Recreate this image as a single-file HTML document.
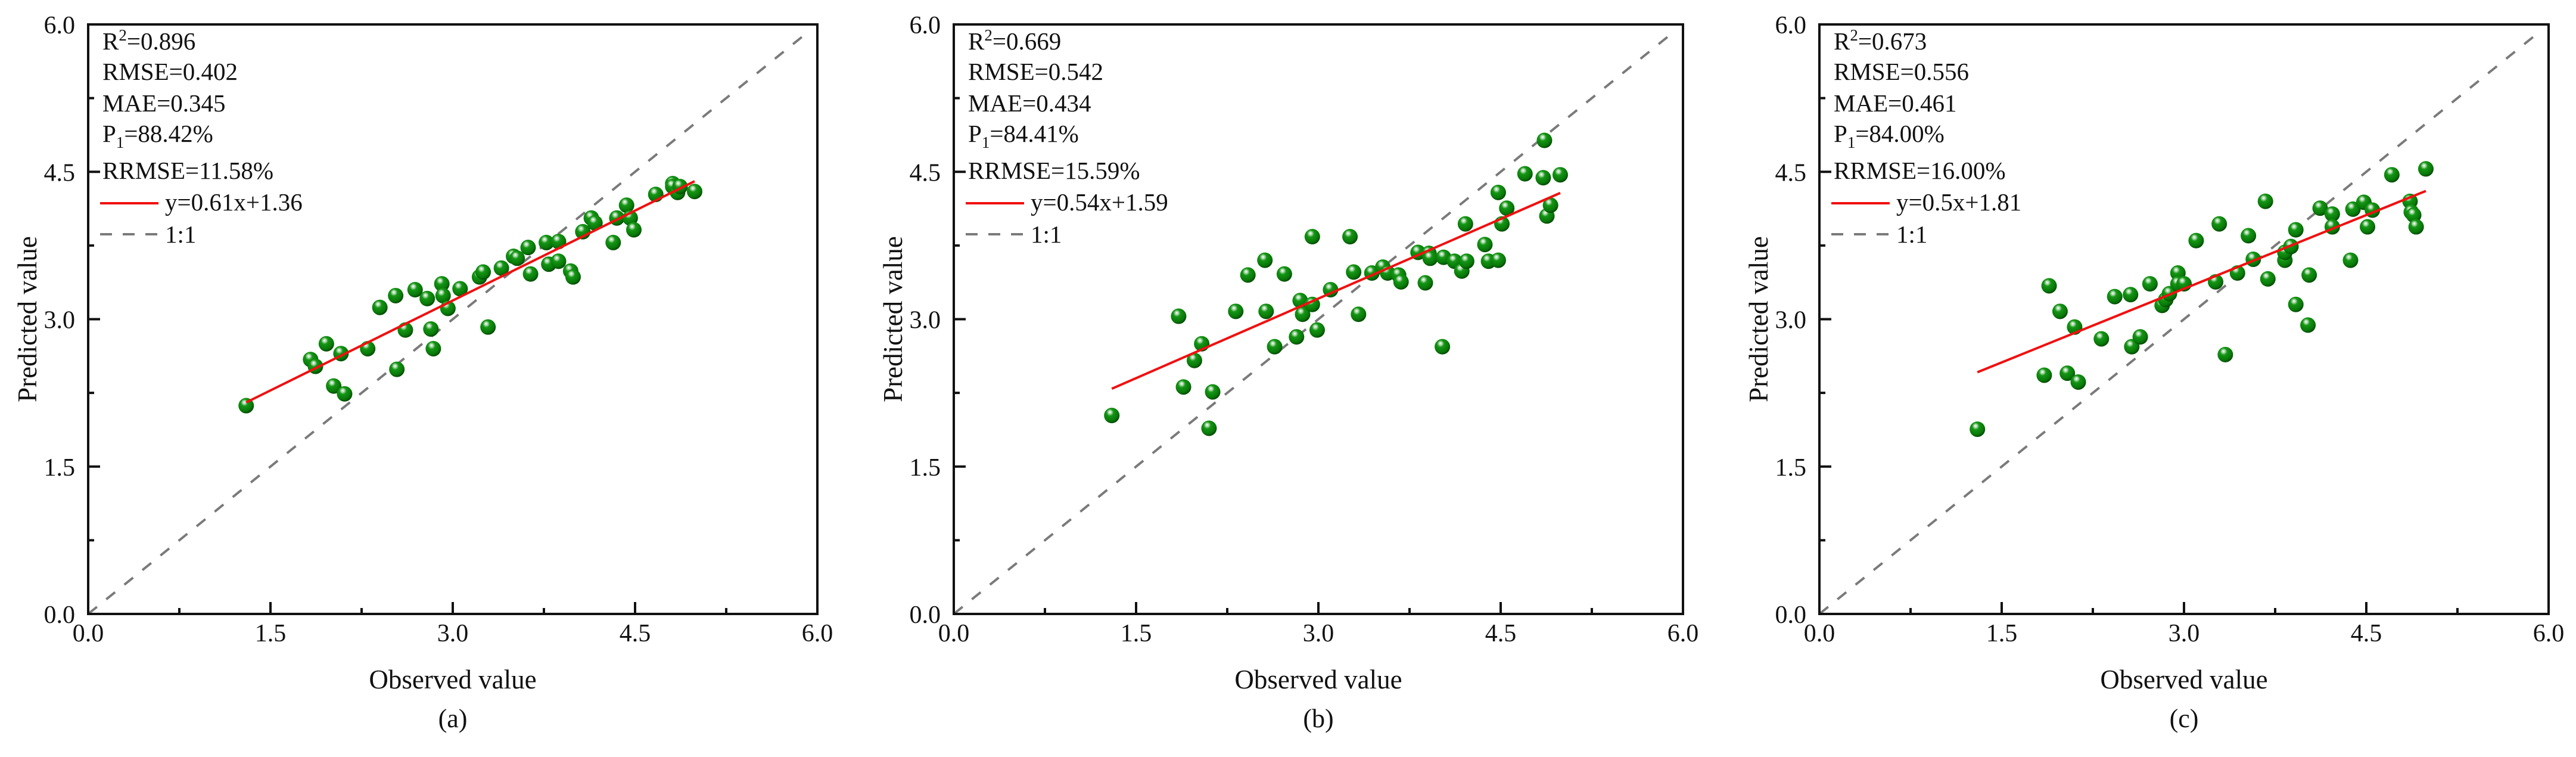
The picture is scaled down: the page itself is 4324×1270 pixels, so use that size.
<!DOCTYPE html>
<html><head><meta charset="utf-8">
<style>
html,body{margin:0;padding:0;background:#fff;}
svg{display:block;font-family:"Liberation Serif","Times New Roman",serif;}
</style></head>
<body>
<svg id="chart" width="4324" height="1270" viewBox="0 0 4324 1270" xmlns="http://www.w3.org/2000/svg">
<defs>
<radialGradient id="ball" cx="0.4" cy="0.35" r="0.65" fx="0.38" fy="0.28">
<stop offset="0" stop-color="#ffffff"/>
<stop offset="0.18" stop-color="#9fd39f"/>
<stop offset="0.35" stop-color="#159615"/>
<stop offset="0.8" stop-color="#087708"/>
<stop offset="1" stop-color="#034a03"/>
</radialGradient>
</defs>
</svg>
<script>
// ---- data ----
const panelLabels = ["(a)", "(b)", "(c)"];
const tickValues = [0, 1.5, 3, 4.5, 6];
const tickLabels = ["0.0", "1.5", "3.0", "4.5", "6.0"];
const minorTicks = [0.75, 2.25, 3.75, 5.25];

const obsA = [1.30,1.83,1.87,1.96,2.08,2.02,2.11,2.30,2.40,2.53,2.54,2.61,2.69,2.79,2.82,2.84,2.91,2.92,2.96,3.06,3.22,3.25,3.29,3.40,3.50,3.53,3.62,3.64,3.77,3.79,3.87,3.87,3.97,3.99,4.07,4.14,4.17,4.32,4.35,4.43,4.46,4.49,4.67,4.81,4.81,4.85,4.87,4.99];
const predA = [2.12,2.59,2.52,2.75,2.65,2.32,2.24,2.70,3.12,3.24,2.49,2.89,3.30,3.21,2.90,2.70,3.36,3.24,3.11,3.31,3.43,3.48,2.92,3.52,3.64,3.62,3.73,3.46,3.78,3.56,3.79,3.59,3.49,3.43,3.89,4.03,3.98,3.78,4.03,4.16,4.03,3.91,4.27,4.38,4.35,4.29,4.35,4.30];

const obsB = [1.30,1.85,1.89,1.98,2.04,2.10,2.13,2.32,2.42,2.56,2.57,2.64,2.72,2.82,2.85,2.87,2.95,2.95,2.99,3.10,3.26,3.29,3.33,3.44,3.53,3.57,3.66,3.68,3.82,3.88,3.91,3.92,4.02,4.03,4.12,4.18,4.22,4.21,4.37,4.40,4.48,4.48,4.51,4.55,4.70,4.85,4.86,4.88,4.91,4.99];
const predB = [2.02,3.03,2.31,2.58,2.75,1.89,2.26,3.08,3.45,3.60,3.08,2.72,3.46,2.82,3.19,3.05,3.84,3.15,2.89,3.30,3.84,3.48,3.05,3.47,3.53,3.47,3.45,3.38,3.68,3.37,3.67,3.62,2.72,3.63,3.59,3.49,3.59,3.97,3.76,3.59,3.60,4.29,3.97,4.13,4.48,4.44,4.82,4.05,4.16,4.47];

const obsC = [1.30,1.85,1.89,1.98,2.04,2.10,2.13,2.32,2.43,2.56,2.57,2.64,2.72,2.82,2.85,2.88,2.95,2.95,3.00,3.10,3.26,3.29,3.34,3.44,3.53,3.57,3.67,3.69,3.83,3.83,3.88,3.92,3.92,4.02,4.03,4.12,4.22,4.22,4.37,4.39,4.48,4.51,4.55,4.71,4.86,4.87,4.89,4.91,4.99];
const predC = [1.88,2.43,3.34,3.08,2.45,2.92,2.36,2.80,3.23,3.25,2.72,2.82,3.36,3.14,3.20,3.26,3.47,3.36,3.36,3.80,3.38,3.97,2.64,3.47,3.85,3.61,4.20,3.41,3.60,3.68,3.74,3.91,3.15,2.94,3.45,4.13,4.07,3.94,3.60,4.12,4.19,3.94,4.11,4.47,4.20,4.09,4.06,3.94,4.53];

const statR2 = ["0.896","0.669","0.673"];
const statRMSE = ["0.402","0.542","0.556"];
const statMAE = ["0.345","0.434","0.461"];
const statP1 = ["88.42%","84.41%","84.00%"];
const statRRMSE = ["11.58%","15.59%","16.00%"];
const fitSlope = [0.61, 0.54, 0.5];
const fitIntercept = [1.36, 1.59, 1.81];
const fitLabels = ["y=0.61x+1.36","y=0.54x+1.59","y=0.5x+1.81"];
const obsSets = [obsA, obsB, obsC];
const predSets = [predA, predB, predC];

// ---- layout ----
const NS = "http://www.w3.org/2000/svg";
const svgRoot = document.getElementById("chart");
const panelLeft = [148, 1601, 3054];
const plotW = 1224, plotTop = 41, plotBottom = 1030;
const statFont = 41;
function mk(tag, attrs, parent){
  const e = document.createElementNS(NS, tag);
  for (const k in attrs) e.setAttribute(k, attrs[k]);
  (parent||svgRoot).appendChild(e);
  return e;
}

for (let p = 0; p < 3; p++) {
  const L = panelLeft[p];
  const xs = v => L + v / 6 * plotW;
  const ys = v => plotBottom - v / 6 * (plotBottom - plotTop);
  const g = mk("g", {});
  
  

  const one = mk("line", {x1: xs(0), y1: ys(0), x2: xs(5.9), y2: ys(5.9), stroke: "#7a7a7a", "stroke-width": 4, "stroke-dasharray": "19 20"}, g);
  
  

  const obs = obsSets[p], pred = predSets[p];
  for (let i = 0; i < obs.length; i++) {
    const c = mk("circle", {cx: xs(obs[i]), cy: ys(pred[i]), r: 13, fill: "url(#ball)"}, g);
    
    
  }

  const xmin = Math.min(...obs), xmax = Math.max(...obs);
  const fl = mk("line", {x1: xs(xmin), y1: ys(fitSlope[p]*xmin + fitIntercept[p]), x2: xs(xmax), y2: ys(fitSlope[p]*xmax + fitIntercept[p]), stroke: "#f01010", "stroke-width": 4}, g);
  
  

  const fr = mk("rect", {x: L, y: plotTop, width: plotW, height: plotBottom - plotTop, fill: "none", stroke: "#111", "stroke-width": 4}, g);
  
  

  for (let i = 0; i < tickValues.length; i++) {
    const v = tickValues[i];
    mk("line", {x1: xs(v), y1: plotBottom, x2: xs(v), y2: plotBottom - 20, stroke: "#111", "stroke-width": 4}, g);
    mk("line", {x1: L, y1: ys(v), x2: L + 20, y2: ys(v), stroke: "#111", "stroke-width": 4}, g);
    const tx = mk("text", {x: xs(v), y: 1076, "font-size": 42, "text-anchor": "middle", fill: "#111"}, g);
    tx.textContent = tickLabels[i];
    
    
    const ty = mk("text", {x: L - 22, y: ys(v) + 15, "font-size": 42, "text-anchor": "end", fill: "#111"}, g);
    ty.textContent = tickLabels[i];
    
    
  }
  for (const v of minorTicks) {
    mk("line", {x1: xs(v), y1: plotBottom, x2: xs(v), y2: plotBottom - 10, stroke: "#111", "stroke-width": 4}, g);
    mk("line", {x1: L, y1: ys(v), x2: L + 10, y2: ys(v), stroke: "#111", "stroke-width": 4}, g);
  }

  const xt = mk("text", {x: L + plotW/2, y: 1155, "font-size": 45, "text-anchor": "middle", fill: "#111"}, g);
  xt.textContent = "Observed value";
  
  
  const ytx = L - 103, yty = (plotTop + plotBottom) / 2;
  const yt = mk("text", {x: ytx, y: yty, "font-size": 45, "text-anchor": "middle", fill: "#111", transform: `rotate(-90 ${ytx} ${yty}) translate(0 16)`}, g);
  yt.textContent = "Predicted value";
  
  
  const pl = mk("text", {x: L + plotW/2, y: 1220, "font-size": 44, "text-anchor": "middle", fill: "#111"}, g);
  pl.textContent = panelLabels[p];
  
  

  const sx = L + 24;
  const s1 = mk("text", {x: sx, y: 83, "font-size": statFont, fill: "#111"}, g);
  s1.appendChild(document.createTextNode("R"));
  const s1a = mk("tspan", {dy: -15, "font-size": 27}, s1); s1a.textContent = "2";
  const s1b = mk("tspan", {dy: 15}, s1); s1b.textContent = "=" + statR2[p];
  
  
  const s2 = mk("text", {x: sx, y: 134, "font-size": statFont, fill: "#111"}, g);
  s2.textContent = "RMSE=" + statRMSE[p];
  
  
  const s3 = mk("text", {x: sx, y: 187, "font-size": statFont, fill: "#111"}, g);
  s3.textContent = "MAE=" + statMAE[p];
  
  
  const s4 = mk("text", {x: sx, y: 238, "font-size": statFont, fill: "#111"}, g);
  s4.appendChild(document.createTextNode("P"));
  const s4a = mk("tspan", {dy: 10, "font-size": 27}, s4); s4a.textContent = "1";
  const s4b = mk("tspan", {dy: -10}, s4); s4b.textContent = "=" + statP1[p];
  
  
  const s5 = mk("text", {x: sx, y: 300, "font-size": statFont, fill: "#111"}, g);
  s5.textContent = "RRMSE=" + statRRMSE[p];
  
  

  const lg = mk("g", {}, g);
  
  
  mk("line", {x1: L + 20, y1: 341, x2: L + 118, y2: 341, stroke: "#f01010", "stroke-width": 4}, lg);
  const l1 = mk("text", {x: L + 129, y: 353, "font-size": statFont, fill: "#111"}, lg);
  l1.textContent = fitLabels[p];
  
  
  mk("line", {x1: L + 20, y1: 393, x2: L + 118, y2: 393, stroke: "#7a7a7a", "stroke-width": 4, "stroke-dasharray": "20 18"}, lg);
  const l2 = mk("text", {x: L + 129, y: 407, "font-size": statFont, fill: "#111"}, lg);
  l2.textContent = "1:1";
  
  
}
</script>
</body></html>
